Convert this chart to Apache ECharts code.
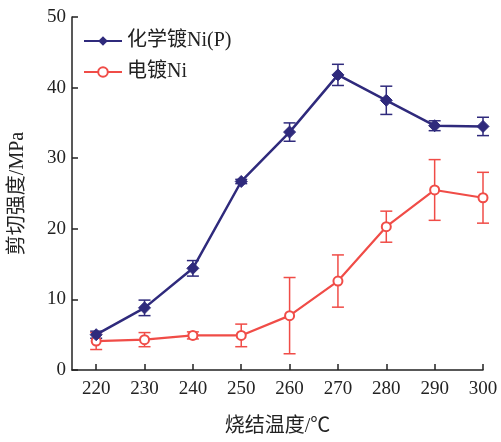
<!DOCTYPE html>
<html><head><meta charset="utf-8">
<script src="https://cdn.jsdelivr.net/npm/echarts@6/dist/echarts.min.js"></script>
<style>html,body{margin:0;padding:0;background:#fff}#c{width:501px;height:442px}</style>
</head><body><div id="c"></div>
<script>
const temps = [220, 230, 240, 250, 260, 270, 280, 290, 300];
const niPVals = [5.0, 8.8, 14.4, 26.7, 33.7, 41.8, 38.2, 34.6, 34.5];
const niPErr  = [0.5, 1.1, 1.1, 0.3, 1.3, 1.5, 2.0, 0.7, 1.3];
const niVals  = [4.1, 4.3, 4.9, 4.9, 7.7, 12.6, 20.3, 25.5, 24.4];
const niErr   = [1.2, 1.0, 0.5, 1.6, 5.4, 3.7, 2.2, 4.3, 3.6];
const yTicks = [0, 10, 20, 30, 40, 50];

const blue = '#2f2a7c', red = '#f04c47';
const font = '"Liberation Serif", "Noto Sans CJK SC", serif';

function errSeries(name, vals, errs, color) {
  return {
    type: 'custom', name: name + 'err', silent: true, z: 1,
    data: temps.map((t, i) => [t, vals[i] - errs[i], vals[i] + errs[i]]),
    renderItem: function (params, api) {
      const lo = api.coord([api.value(0), api.value(1)]);
      const hi = api.coord([api.value(0), api.value(2)]);
      const w = 6;
      const st = { stroke: color, lineWidth: 1.5 };
      return { type: 'group', children: [
        { type: 'line', shape: { x1: lo[0], y1: lo[1], x2: hi[0], y2: hi[1] }, style: st },
        { type: 'line', shape: { x1: lo[0]-w, y1: lo[1], x2: lo[0]+w, y2: lo[1] }, style: st },
        { type: 'line', shape: { x1: hi[0]-w, y1: hi[1], x2: hi[0]+w, y2: hi[1] }, style: st }
      ]};
    }
  };
}

const chart = echarts.init(document.getElementById('c'));
chart.setOption({
  animation: false,
  textStyle: { fontFamily: font },
  grid: { left: 70, right: 18, top: 17, bottom: 71 },
  legend: {
    data: ['化学镀Ni(P)', '电镀Ni'], orient: 'vertical', left: 78, top: 26,
    itemWidth: 38, itemHeight: 12, itemGap: 11,
    textStyle: { fontFamily: font, fontSize: 20, color: '#222' }
  },
  xAxis: {
    type: 'value', min: 215, max: 300,
    name: '烧结温度/℃', nameLocation: 'middle', nameGap: 47,
    nameTextStyle: { fontFamily: font, fontSize: 20, color: '#222' },
    axisLine: { lineStyle: { color: '#222', width: 1.5 } },
    axisTick: { inside: true, length: 6, customValues: temps, lineStyle: { color: '#222', width: 1.5 } },
    axisLabel: { customValues: temps, fontSize: 19, color: '#222', margin: 10 },
    splitLine: { show: false }
  },
  yAxis: {
    type: 'value', min: 0, max: 50, interval: 10,
    name: '剪切强度/MPa', nameLocation: 'middle', nameGap: 44,
    nameTextStyle: { fontFamily: font, fontSize: 20, color: '#222' },
    axisLine: { show: true, lineStyle: { color: '#222', width: 1.5 } },
    axisTick: { show: true, inside: true, length: 6, lineStyle: { color: '#222', width: 1.5 } },
    axisLabel: { fontSize: 19, color: '#222', margin: 6 },
    splitLine: { show: false }
  },
  series: [
    errSeries('化学镀Ni(P)', niPVals, niPErr, blue),
    errSeries('电镀Ni', niVals, niErr, red),
    {
      name: '化学镀Ni(P)', type: 'line', z: 3,
      data: temps.map((t, i) => [t, niPVals[i]]),
      symbol: 'diamond', symbolSize: 12,
      lineStyle: { color: blue, width: 2.5 },
      itemStyle: { color: blue, borderColor: blue }
    },
    {
      name: '电镀Ni', type: 'line', z: 2,
      data: temps.map((t, i) => [t, niVals[i]]),
      symbol: 'emptyCircle', symbolSize: 9,
      lineStyle: { color: red, width: 2.2 },
      itemStyle: { color: red, borderColor: red, borderWidth: 1.3 }
    }
  ]
});
</script></body></html>
